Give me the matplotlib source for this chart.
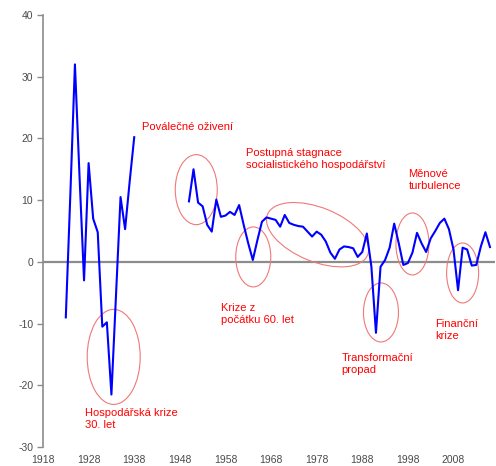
import matplotlib
matplotlib.use('Agg')
import matplotlib.pyplot as plt
import matplotlib.transforms as mtransforms
from matplotlib.patches import Ellipse

plt.rcParams['font.family'] = ['Liberation Sans', 'DejaVu Sans']
plt.rcParams['axes.unicode_minus'] = False

years_prewar = list(range(1923, 1939))
growth_prewar = [-9.0, 11.0, 32.0, 14.0, -3.0, 16.0, 7.0, 4.8,
                 -10.5, -9.8, -21.5, -5.5, 10.5, 5.3, 13.0, 20.2]

years_postwar = list(range(1950, 2017))
growth_postwar = [9.8, 15.0, 9.6, 9.0, 6.0, 4.9, 10.1, 7.3, 7.5, 8.1,
                  7.6, 9.2, 6.0, 3.0, 0.3, 3.5, 6.5, 7.2, 7.0, 6.8,
                  5.7, 7.6, 6.3, 6.0, 5.8, 5.7, 4.9, 4.1, 4.9, 4.4,
                  3.3, 1.5, 0.5, 2.0, 2.5, 2.4, 2.2, 0.8, 1.6, 4.6,
                  -0.8, -11.5, -0.8, 0.3, 2.3, 6.2, 3.0, -0.5, -0.2, 1.5,
                  4.7, 3.0, 1.6, 3.8, 5.0, 6.3, 7.0, 5.3, 2.0, -4.6,
                  2.3, 2.0, -0.6, -0.5, 2.5, 4.8, 2.4]

x_ticks = [1918, 1928, 1938, 1948, 1958, 1968, 1978, 1988, 1998, 2008]
y_ticks = [-30, -20, -10, 0, 10, 20, 30, 40]

# annotations: text, anchor (year, value)
labels = [
    ('Poválečné oživení', 1939.6, 21.8),
    ('Postupná stagnace\nsocialistického hospodářství', 1962.4, 16.6),
    ('Měnové\nturbulence', 1998.1, 13.3),
    ('Krize z\npočátku 60. let', 1957.0, -8.4),
    ('Hospodářská krize\n30. let', 1927.3, -25.4),
    ('Transformační\npropad', 1983.5, -16.5),
    ('Finanční\nkrize', 2003.9, -11.1),
]

# ellipses: center (year, value), width/height in pixels, angle
circles = [
    (1951.6, 11.7, 42, 70, 0),
    (1933.5, -15.4, 53, 95, 0),
    (1964.1, 0.8, 35, 60, 0),
    (1978.2, 4.4, 108, 54, -22),
    (1992.1, -8.2, 35, 59, 0),
    (1999.0, 2.9, 33, 62, 0),
    (2010.0, -1.8, 32, 60, 0),
]

fig = plt.figure(figsize=(4.96, 4.66), dpi=100)
ax = fig.add_axes([43 / 496, 1 - 447 / 466, 452 / 496, 432 / 466])

ax.plot(years_prewar, growth_prewar, color='#0000ff', lw=1.5)
ax.plot(years_postwar, growth_postwar, color='#0000ff', lw=1.5)
ax.axhline(0, color='#8c8c8c', lw=1.6, zorder=0)

ax.set_xlim(1919.1, 2017.1)
ax.set_ylim(-30, 40)
ax.set_xticks(x_ticks)
ax.set_yticks(y_ticks)
ax.tick_params(axis='x', length=0, pad=6, labelsize=7.5, labelcolor='#4a4a4a')
ax.tick_params(axis='y', length=4, width=1, color='#8c8c8c', pad=3,
               labelsize=7.5, labelcolor='#4a4a4a')

for side in ['top', 'right', 'bottom']:
    ax.spines[side].set_visible(False)
ax.spines['left'].set_color('#8c8c8c')
ax.spines['left'].set_linewidth(1.2)

for txt, x, y in labels:
    ax.text(x, y, txt, color='#ff0000', fontsize=8, ha='left', va='center',
            linespacing=1.25)

for x, y, w, h, ang in circles:
    trans = fig.dpi_scale_trans + mtransforms.ScaledTranslation(x, y, ax.transData)
    ax.add_patch(Ellipse((0, 0), w / 100, h / 100, angle=ang, fill=False,
                         edgecolor='#f07878', lw=0.8, transform=trans))

plt.savefig('out.png', dpi=100)
